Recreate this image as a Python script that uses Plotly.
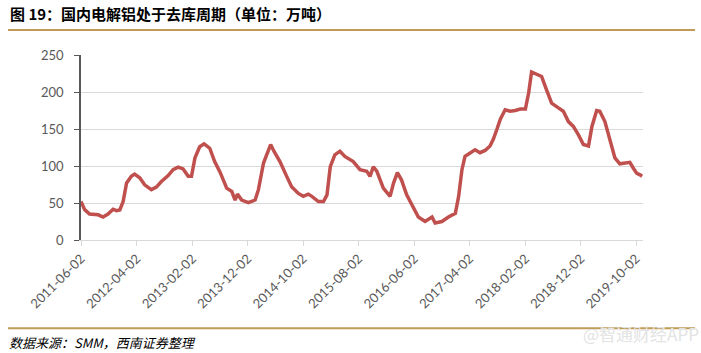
import plotly.graph_objects as go

dates = [
    "2011-06-02", "2011-06-22", "2011-07-19", "2011-09-04", "2011-10-01", "2011-10-28",
    "2011-11-25", "2011-12-13", "2012-01-01", "2012-01-19", "2012-02-07", "2012-03-04",
    "2012-03-22", "2012-04-19", "2012-05-16", "2012-06-22", "2012-07-19", "2012-08-16",
    "2012-09-22", "2012-10-19", "2012-11-16", "2012-12-13", "2013-01-10", "2013-01-28",
    "2013-02-16", "2013-03-14", "2013-04-07", "2013-05-08", "2013-06-04", "2013-07-03",
    "2013-08-09", "2013-09-06", "2013-09-24", "2013-10-07", "2013-10-30", "2013-12-06",
    "2014-01-12", "2014-01-30", "2014-02-27", "2014-03-24", "2014-04-07", "2014-04-25",
    "2014-05-28", "2014-07-04", "2014-07-31", "2014-09-06", "2014-10-03", "2014-10-30",
    "2014-11-19", "2014-12-25", "2015-01-22", "2015-02-10", "2015-02-28", "2015-03-25",
    "2015-04-22", "2015-05-19", "2015-07-04", "2015-08-10", "2015-09-16", "2015-10-04",
    "2015-10-22", "2015-11-10", "2015-12-16", "2016-01-22", "2016-02-10", "2016-03-02",
    "2016-03-25", "2016-04-22", "2016-05-28", "2016-06-25", "2016-08-01", "2016-09-08",
    "2016-09-25", "2016-11-01", "2016-12-07", "2017-01-14", "2017-02-01", "2017-02-19",
    "2017-03-08", "2017-04-05", "2017-05-02", "2017-05-29", "2017-06-26", "2017-07-23",
    "2017-08-10", "2017-08-29", "2017-09-17", "2017-10-14", "2017-11-11", "2017-12-08",
    "2018-01-05", "2018-02-02", "2018-02-20", "2018-03-08", "2018-04-05", "2018-05-02",
    "2018-05-29", "2018-06-26", "2018-08-02", "2018-08-29", "2018-09-26", "2018-10-23",
    "2018-11-20", "2018-12-17", "2019-01-14", "2019-02-02", "2019-02-28", "2019-03-17",
    "2019-04-14", "2019-05-11", "2019-06-08", "2019-07-05", "2019-08-02", "2019-08-29",
    "2019-09-17", "2019-10-06", "2019-10-24", "2019-11-04",
]

inventory = [
    52, 41, 35, 34, 31, 35,
    41.6, 39.7, 40.6, 52, 77, 86,
    89, 84, 74.5, 68, 71.4, 79,
    87, 95, 98.5, 96, 86, 86,
    111, 126, 130, 124, 106, 92,
    70, 65.5, 54, 62, 54, 50.5,
    54, 68, 104, 122, 129, 120,
    106, 86, 72, 63, 59, 62,
    59, 52, 52, 61, 99, 115,
    120, 113, 106, 95, 93, 86,
    99, 93, 70, 59, 77, 91,
    81, 61, 43, 31, 25, 31,
    23, 25, 31, 36, 59, 95,
    113, 117, 122, 118, 121, 127,
    136, 149, 163, 176, 174, 175,
    177, 177, 199, 227, 224, 221,
    203, 185, 178.5, 174, 160, 153.5,
    142, 129, 127, 153.5, 175, 174,
    160, 135.5, 111, 103, 104, 105,
    97, 90, 88, 86,
]

tick_dates = ["2011-06-02", "2012-04-02", "2013-02-02", "2013-12-02", "2014-10-02",
              "2015-08-02", "2016-06-02", "2017-04-02", "2018-02-02", "2018-12-02",
              "2019-10-02"]
y_ticks = [0, 50, 100, 150, 200, 250]

title_text = "图 19：国内电解铝处于去库周期（单位：万吨）"
source_text = "数据来源：SMM，西南证券整理"
watermark_text = "@智通财经APP"

fig = go.Figure()
fig.add_trace(go.Scatter(
    x=dates, y=inventory, mode="lines",
    line=dict(color="#C0504D", width=3.5),
    hoverinfo="skip", showlegend=False,
))

gold = "#BF9B57"
fig.update_layout(
    width=701, height=353,
    margin=dict(l=81, r=58, t=55, b=113),
    paper_bgcolor="white", plot_bgcolor="white",
    font=dict(family="Lato, 'Open Sans', sans-serif", color="#595959"),
    xaxis=dict(
        type="date", range=["2011-06-02", "2019-11-09"],
        tickvals=tick_dates, ticktext=tick_dates,
        tickangle=-45, tickfont=dict(size=13, color="#595959"),
        showgrid=False, showline=True, linecolor="#D9D9D9", linewidth=1,
        ticks="outside", ticklen=5, tickcolor="#D9D9D9",
        zeroline=False,
    ),
    yaxis=dict(
        range=[0, 250], tickvals=y_ticks,
        tickfont=dict(size=13, color="#595959"),
        showgrid=True, gridcolor="#D9D9D9", gridwidth=1,
        showline=True, linecolor="#595959", linewidth=1.5,
        ticks="outside", ticklen=5, tickcolor="#595959",
        ticklabelstandoff=8, zeroline=False,
    ),
    shapes=[
        dict(type="line", xref="paper", yref="paper",
             x0=(8 - 81) / 562, x1=(695 - 81) / 562,
             y0=(240 - 30.5) / 184.5, y1=(240 - 30.5) / 184.5,
             line=dict(color=gold, width=2)),
        dict(type="line", xref="paper", yref="paper",
             x0=(8 - 81) / 562, x1=(695 - 81) / 562,
             y0=(240 - 328) / 184.5, y1=(240 - 328) / 184.5,
             line=dict(color=gold, width=2)),
    ],
    annotations=[
        dict(text="<b>" + title_text + "</b>", xref="paper", yref="paper",
             x=(8 - 81) / 562, y=(240 - 14) / 184.5, xanchor="left", yanchor="middle",
             showarrow=False,
             font=dict(family="Noto Sans CJK SC", size=15, color="#000000")),
        dict(text="<i>" + source_text + "</i>", xref="paper", yref="paper",
             x=(7 - 81) / 562, y=(240 - 342) / 184.5, xanchor="left", yanchor="middle",
             showarrow=False,
             font=dict(family="Noto Sans CJK SC", size=13, color="#000000")),
        dict(text=watermark_text, xref="paper", yref="paper",
             x=(701 - 81) / 562, y=(240 - 333) / 184.5, xanchor="right", yanchor="middle",
             showarrow=False,
             font=dict(family="Noto Sans CJK SC", size=17, color="#E3E3E3")),
    ],
)

fig.write_html("out.html")
